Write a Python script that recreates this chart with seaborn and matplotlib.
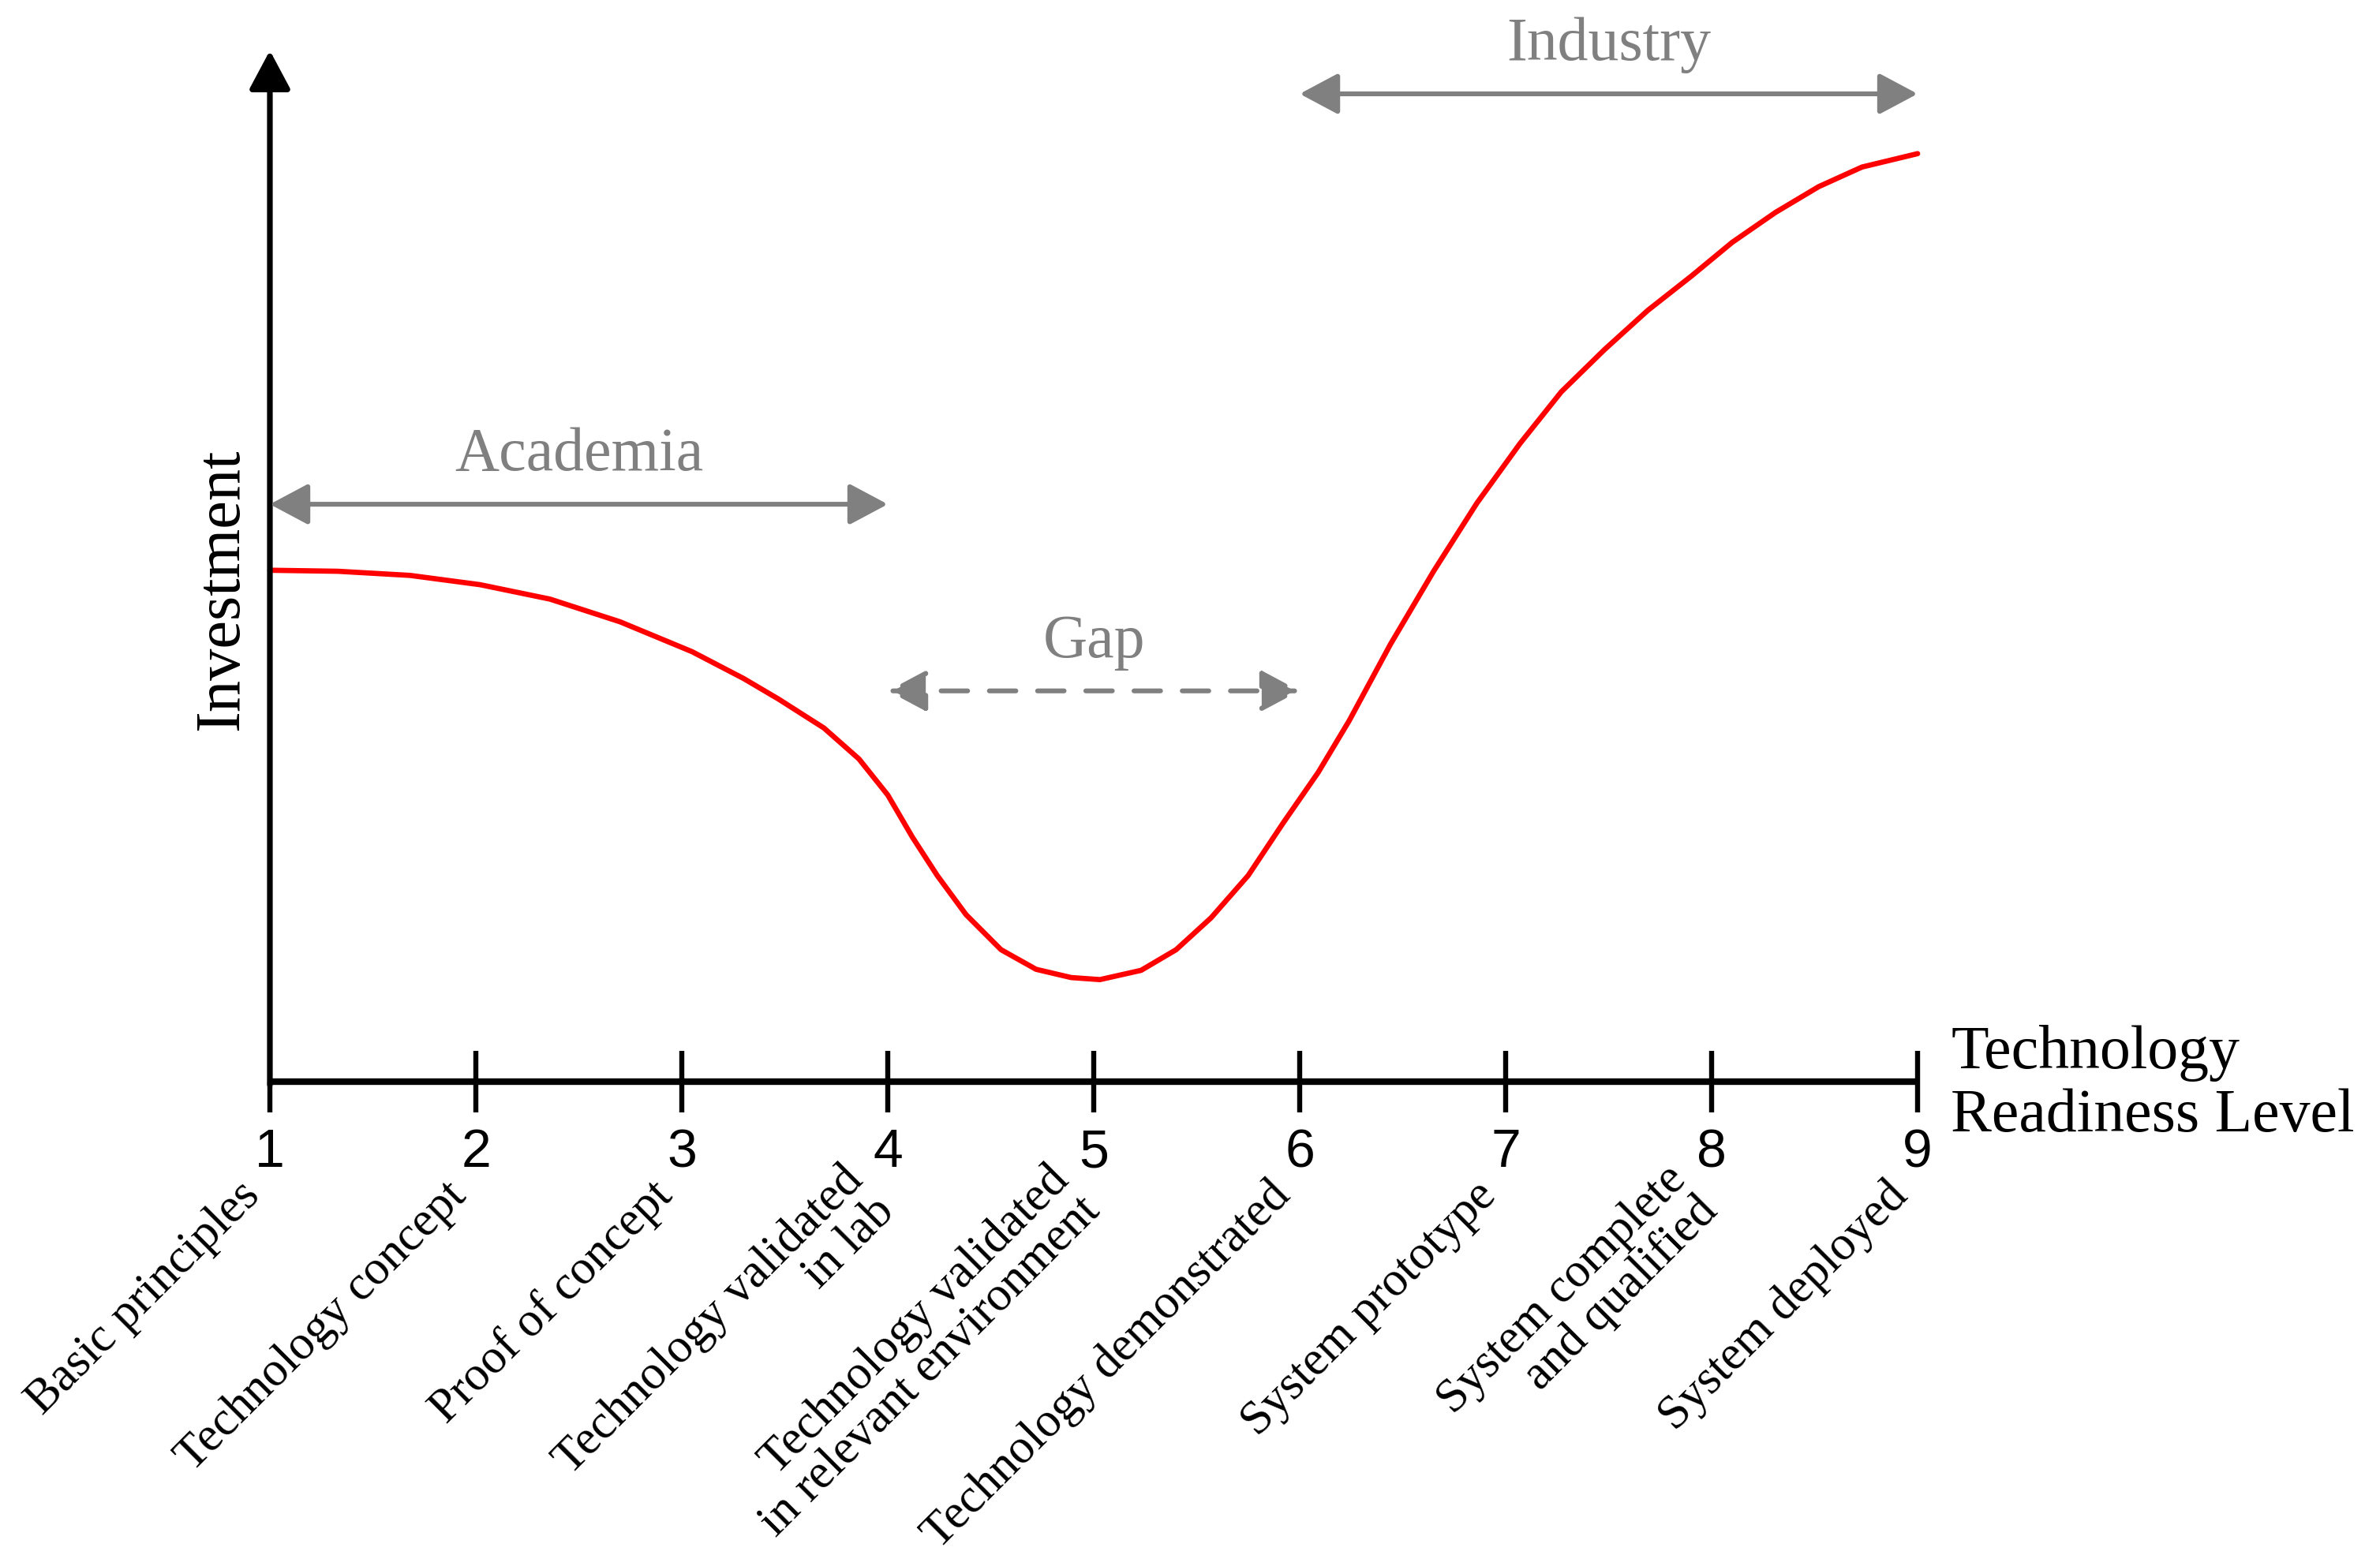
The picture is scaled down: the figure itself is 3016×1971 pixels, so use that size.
import matplotlib.pyplot as plt
import seaborn as sns

# ---- data ----
trl_levels = [1, 2, 3, 4, 5, 6, 7, 8, 9]
trl_labels = [
    "Basic principles",
    "Technology concept",
    "Proof of concept",
    "Technology validated\nin lab",
    "Technology validated\nin relevant environment",
    "Technology demonstrated",
    "System prototype",
    "System complete\nand qualified",
    "System deployed",
]

# investment curve (arbitrary units, top of the y axis = 100)
curve_trl = [1.00, 1.33, 1.68, 2.02, 2.36, 2.70, 3.05, 3.30, 3.47, 3.69,
             3.86, 4.00, 4.12, 4.24, 4.38, 4.55, 4.72, 4.89, 5.03, 5.23,
             5.40, 5.57, 5.75, 5.92, 6.09, 6.24, 6.44, 6.65, 6.86, 7.07,
             7.27, 7.48, 7.69, 7.90, 8.10, 8.31, 8.52, 8.73, 9.00]
curve_investment = [49.6, 49.5, 49.1, 48.2, 46.8, 44.6, 41.7, 39.1, 37.1, 34.3,
                    31.3, 27.8, 23.7, 20.0, 16.2, 12.8, 10.9, 10.1, 9.9, 10.8,
                    12.8, 15.9, 20.0, 25.1, 30.0, 35.0, 42.4, 49.5, 56.1, 61.9,
                    66.9, 71.0, 74.8, 78.1, 81.4, 84.3, 86.8, 88.7, 90.0]

# who funds which stretch of the TRL scale
phase_names = ["Academia", "Gap", "Industry"]
phase_start = [1, 4, 6]
phase_end = [4, 6, 9]
phase_level = [56.0, 37.9, 95.8]
phase_dashed = [False, True, False]

GREY = "#808080"

# ---- plot ----
sns.set_theme(style="white")
plt.rcParams["font.family"] = ["Liberation Serif", "DejaVu Serif"]

fig = plt.figure(figsize=(15.08, 9.855), dpi=200)
ax = fig.add_axes([0, 0, 1, 1])
ax.set_xlim(-0.3103, 11.245)
ax.set_ylim(-45.9, 104.9)
ax.set_axis_off()

# red investment curve
sns.lineplot(x=curve_trl, y=curve_investment, color="#ff0000", lw=2.4,
             solid_joinstyle="round", solid_capstyle="round", ax=ax)

# x axis with ticks
ax.plot([trl_levels[0], trl_levels[-1]], [0, 0], color="black", lw=3.0,
        solid_capstyle="butt", zorder=3)
ax.vlines(trl_levels[1:], -3.0, 3.0, color="black", lw=2.3, zorder=3)
ax.vlines(trl_levels[0], -3.0, 0, color="black", lw=2.3, zorder=3)

# y axis with arrow head
ax.annotate("", xy=(trl_levels[0], 100), xytext=(trl_levels[0], -0.3),
            arrowprops=dict(arrowstyle="-|>,head_length=0.75,head_width=0.4",
                            mutation_scale=20, color="black", lw=2.6,
                            shrinkA=0, shrinkB=0), zorder=3)

# tick numbers and descriptions
for lvl, lab in zip(trl_levels, trl_labels):
    ax.text(lvl, -6.9, str(lvl), ha="center", va="center", fontsize=24.5,
            family=["Liberation Sans", "DejaVu Sans"], color="black")
    ax.text(lvl - 0.08, -10.4, lab, rotation=45, rotation_mode="anchor",
            ha="right", va="center", fontsize=22, linespacing=1.0,
            color="black")

# axis titles
ax.text(0.77, 47.7, "Investment", rotation=90, ha="center", va="center",
        fontsize=29, color="black")
ax.text(9.161, -0.3, "Technology\nReadiness Level", ha="left", va="center",
        fontsize=28, linespacing=1.15, color="black")

# phase arrows
for name, x0, x1, yv, dashed in zip(phase_names, phase_start, phase_end,
                                    phase_level, phase_dashed):
    ls = (0, (5.5, 4.5)) if dashed else "solid"
    ax.annotate("", xy=(x1, yv), xytext=(x0, yv),
                arrowprops=dict(arrowstyle="<|-|>,head_length=0.75,head_width=0.4",
                                mutation_scale=20, color=GREY, lw=2.2,
                                linestyle=ls, shrinkA=0, shrinkB=0))
    ax.text((x0 + x1) / 2, yv + 3.3, name, ha="center", va="baseline",
            fontsize=28, color=GREY)

fig.savefig("out.png", dpi=200, facecolor="white")
